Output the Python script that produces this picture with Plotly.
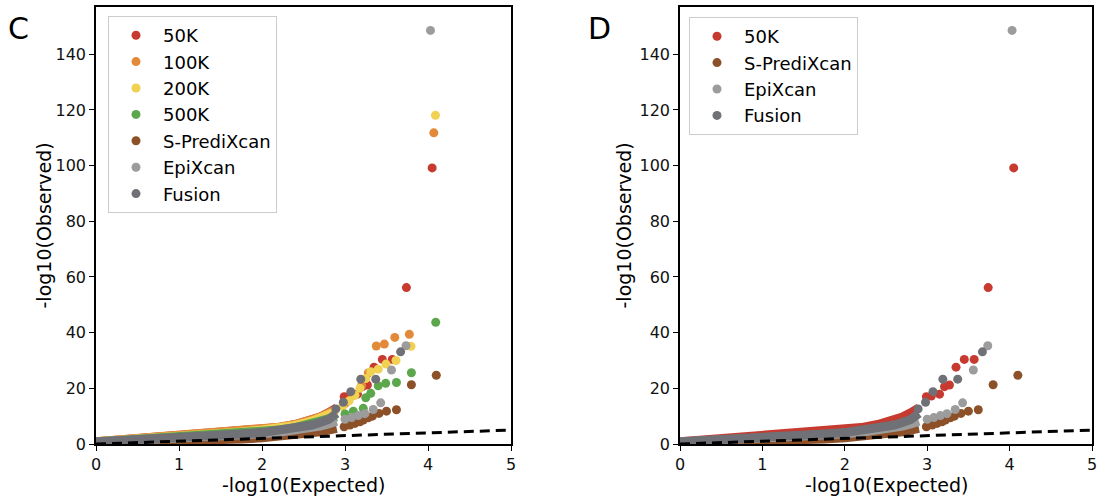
import plotly.graph_objects as go

# ---------------- data ----------------
# dense part of every QQ curve, sampled at these expected values
EXP_BODY = [0.0, 0.25, 0.5, 0.75, 1.0, 1.25, 1.5, 1.75, 2.0, 2.2, 2.4, 2.6, 2.7, 2.8, 2.9]

K50_BODY = [0.8, 1.3, 1.7, 2.2, 2.7, 3.2, 3.8, 4.4, 5.1, 5.9, 7.0, 8.6, 9.7, 11.2, 13.0]
K50_TAIL_X = [2.99, 3.05, 3.15, 3.21, 3.27, 3.35, 3.45, 3.57, 3.74, 4.05]
K50_TAIL_Y = [17.0, 17.2, 17.9, 20.6, 21.2, 27.6, 30.4, 30.4, 56.2, 99.2]

K100_BODY = [0.8, 1.3, 1.8, 2.3, 2.8, 3.3, 3.9, 4.5, 5.2, 6.0, 7.0, 8.5, 9.6, 11.0, 12.5]
K100_TAIL_X = [3.0, 3.1, 3.2, 3.28, 3.377, 3.474, 3.60, 3.775, 4.07]
K100_TAIL_Y = [14.5, 17.5, 21.0, 25.5, 35.2, 35.9, 38.3, 39.4, 111.8]

K200_BODY = [0.8, 1.2, 1.7, 2.2, 2.7, 3.2, 3.7, 4.3, 5.0, 5.7, 6.7, 8.2, 9.3, 10.6, 11.8]
K200_TAIL_X = [2.97, 3.05, 3.12, 3.18, 3.25, 3.31, 3.40, 3.494, 3.614, 3.795, 4.09]
K200_TAIL_Y = [13.5, 15.5, 17.5, 20.0, 23.5, 26.0, 26.9, 28.7, 30.0, 35.1, 118.1]

K500_BODY = [0.7, 1.1, 1.5, 1.9, 2.3, 2.7, 3.2, 3.7, 4.3, 5.0, 5.9, 7.1, 8.0, 9.0, 9.8]
K500_TAIL_X = [3.0, 3.1, 3.22, 3.25, 3.31, 3.40, 3.49, 3.62, 3.80, 4.093]
K500_TAIL_Y = [10.8, 11.8, 12.8, 16.6, 18.2, 20.9, 21.8, 22.1, 25.6, 43.7]

SPX_BODY = [0.4, 0.5, 0.6, 0.8, 1.0, 1.2, 1.5, 1.8, 2.2, 2.6, 3.2, 3.9, 4.4, 5.0, 5.6]
SPX_TAIL_X = [2.99, 3.06, 3.12, 3.18, 3.22, 3.28, 3.33, 3.41, 3.50, 3.62, 3.80, 4.10]
SPX_TAIL_Y = [6.2, 6.8, 7.4, 8.0, 8.6, 9.4, 10.0, 11.0, 11.8, 12.3, 21.3, 24.7]

EPI_BODY = [0.7, 1.0, 1.3, 1.6, 2.0, 2.4, 2.8, 3.2, 3.7, 4.2, 4.9, 5.8, 6.4, 7.2, 8.2]
EPI_TAIL_X = [3.0, 3.08, 3.16, 3.24, 3.34, 3.43, 3.56, 3.735, 4.03]
EPI_TAIL_Y = [8.9, 9.5, 10.2, 10.9, 12.4, 14.8, 26.6, 35.3, 148.6]

FUS_BODY = [0.8, 1.1, 1.5, 1.9, 2.3, 2.7, 3.1, 3.6, 4.1, 4.8, 5.6, 6.8, 7.7, 8.8, 11.0]
FUS_TAIL_X = [2.89, 2.98, 3.07, 3.19, 3.37, 3.67]
FUS_TAIL_Y = [12.6, 15.0, 18.8, 23.3, 23.3, 33.1]

NULL_X = [0, 5]
NULL_Y = [0, 5]

X_TICKS = [0, 1, 2, 3, 4, 5]
Y_TICKS = [0, 20, 40, 60, 80, 100, 120, 140]

SERIES = {
    "50K": (K50_BODY, K50_TAIL_X, K50_TAIL_Y, "#C63A30"),
    "100K": (K100_BODY, K100_TAIL_X, K100_TAIL_Y, "#E2893A"),
    "200K": (K200_BODY, K200_TAIL_X, K200_TAIL_Y, "#F0D152"),
    "500K": (K500_BODY, K500_TAIL_X, K500_TAIL_Y, "#5CA64C"),
    "S-PrediXcan": (SPX_BODY, SPX_TAIL_X, SPX_TAIL_Y, "#8C5129"),
    "EpiXcan": (EPI_BODY, EPI_TAIL_X, EPI_TAIL_Y, "#9C9C9C"),
    "Fusion": (FUS_BODY, FUS_TAIL_X, FUS_TAIL_Y, "#707176"),
}
PANEL_C = ["50K", "100K", "200K", "500K", "S-PrediXcan", "EpiXcan", "Fusion"]
PANEL_D = ["50K", "S-PrediXcan", "EpiXcan", "Fusion"]

MS = 9
W, H = 1097, 499

fig = go.Figure()


def add_panel(names, xa, ya, legend, suffix):
    for name in names:
        body, tx, ty, col = SERIES[name]
        grp = name + suffix
        fig.add_trace(go.Scatter(
            x=EXP_BODY, y=body, mode="lines", xaxis=xa, yaxis=ya,
            line=dict(color=col, width=MS), legendgroup=grp,
            showlegend=False, legend=legend, hoverinfo="skip"))
        fig.add_trace(go.Scatter(
            x=tx, y=ty, mode="markers", xaxis=xa, yaxis=ya, name=name,
            marker=dict(color=col, size=MS, line=dict(width=0)),
            legendgroup=grp, legend=legend))
    fig.add_trace(go.Scatter(
        x=NULL_X, y=NULL_Y, mode="lines", xaxis=xa, yaxis=ya,
        line=dict(color="black", width=3, dash="10px,6px"),
        showlegend=False, hoverinfo="skip"))


add_panel(PANEL_C, "x", "y", "legend", "_c")
add_panel(PANEL_D, "x2", "y2", "legend2", "_d")

axis_common = dict(
    showline=True, linecolor="black", linewidth=1.5, mirror=True,
    ticks="outside", ticklen=5, tickwidth=1.3, tickcolor="black",
    showgrid=False, zeroline=False, automargin=False, ticklabeloverflow="allow",
    tickfont=dict(family="DejaVu Sans", size=16, color="#111"),
)
ydom = [(H - 444) / H, (H - 7) / H]

legend_common = dict(
    xanchor="left", yanchor="top",
    bgcolor="rgba(255,255,255,0.85)", bordercolor="#cccccc", borderwidth=1,
    font=dict(family="DejaVu Sans", size=18, color="black"),
    traceorder="grouped", tracegroupgap=0, itemwidth=44,
)

fig.update_layout(
    width=W, height=H,
    margin=dict(l=0, r=0, t=0, b=0, autoexpand=False),
    plot_bgcolor="white", paper_bgcolor="white",
    font=dict(family="DejaVu Sans", size=16, color="black"),
    xaxis=dict(domain=[96 / W, 511 / W], range=[0, 5], tickvals=X_TICKS, anchor="y", **axis_common),
    yaxis=dict(domain=ydom, range=[0, 157], tickvals=Y_TICKS, anchor="x", **axis_common),
    xaxis2=dict(domain=[680 / W, 1092 / W], range=[0, 5], tickvals=X_TICKS, anchor="y2", **axis_common),
    yaxis2=dict(domain=ydom, range=[0, 157], tickvals=Y_TICKS, anchor="x2", **axis_common),
    legend=dict(x=108 / W, y=1 - 16 / H, **legend_common),
    legend2=dict(x=689 / W, y=1 - 17 / H, **legend_common),
    showlegend=True,
)

ann = []
for letter, lx in (("C", 18), ("D", 599)):
    ann.append(dict(text=letter, x=lx / W, y=1 - 28 / H, xref="paper", yref="paper",
                    xanchor="center", yanchor="middle", showarrow=False,
                    font=dict(size=30, family="DejaVu Sans", color="black")))
for cx in (303.5, 886):
    ann.append(dict(text="-log10(Expected)", x=cx / W, y=1 - 484.5 / H, xref="paper", yref="paper",
                    xanchor="center", yanchor="middle", showarrow=False,
                    font=dict(size=19, family="DejaVu Sans", color="black")))
for cx in (44, 624):
    ann.append(dict(text="-log10(Observed)", x=cx / W, y=1 - 225.5 / H, xref="paper", yref="paper",
                    xanchor="center", yanchor="middle", showarrow=False, textangle=-90,
                    font=dict(size=19, family="DejaVu Sans", color="black")))
fig.update_layout(annotations=ann)

fig.write_html("out.html")
